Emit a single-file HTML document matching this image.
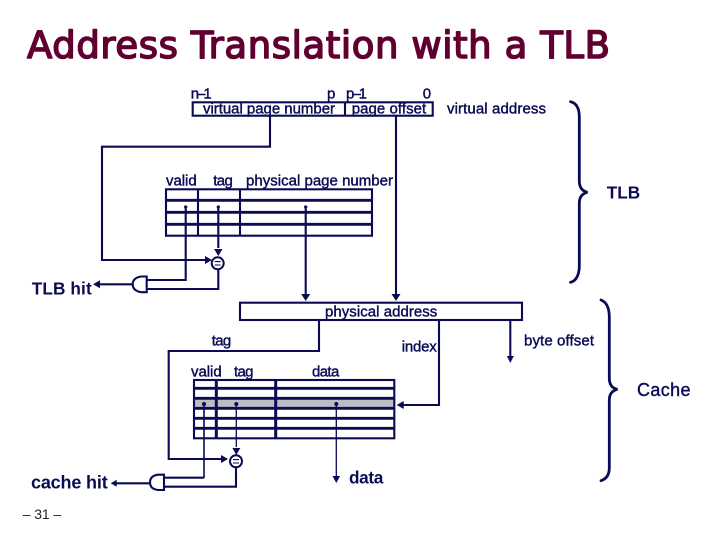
<!DOCTYPE html>
<html><head><meta charset="utf-8"><style>
html,body{margin:0;padding:0;background:#fff;width:720px;height:540px;overflow:hidden}
svg{display:block}
.t{font-family:"Liberation Sans",sans-serif;font-size:15px;fill:#0b0b55;stroke:#0b0b55;stroke-width:.4}
.b{font-family:"Liberation Sans",sans-serif;font-weight:bold;font-size:17.2px;fill:#0b0b55}
.l{fill:none;stroke:#0a0a55;stroke-width:2.1}
.k{fill:none;stroke:#0a0a55;stroke-width:2.8}
.a{fill:#0a0a55}
</style></head><body>
<svg width="720" height="540" viewBox="0 0 720 540" xmlns="http://www.w3.org/2000/svg">
<rect width="720" height="540" fill="#fff"/>
<text x="27" y="58" textLength="583" lengthAdjust="spacing" style="font-family:'DejaVu Sans',sans-serif;font-size:37px;fill:#600030;stroke:#600030;stroke-width:1.5;stroke-linejoin:round">Address Translation with a TLB</text>

<!-- virtual address -->
<text class="t" x="190.7" y="98.3" textLength="21" lengthAdjust="spacing">n–1</text>
<text class="t" x="327" y="98.3">p</text>
<text class="t" x="346" y="98.3" textLength="21" lengthAdjust="spacing">p–1</text>
<text class="t" x="422.7" y="98.3">0</text>
<rect class="l" x="192.7" y="102.3" width="240" height="13.4"/>
<line class="l" x1="345" y1="102" x2="345" y2="116"/>
<text class="t" x="203" y="113.3" textLength="132" lengthAdjust="spacing">virtual page number</text>
<text class="t" x="351.7" y="113.3" textLength="74.5" lengthAdjust="spacing">page offset</text>
<text class="t" x="447" y="113.3" textLength="99" lengthAdjust="spacing">virtual address</text>

<!-- TLB -->
<text class="t" x="166" y="185.7" textLength="30.7" lengthAdjust="spacing">valid</text>
<text class="t" x="213.3" y="185.7" textLength="19.5" lengthAdjust="spacing">tag</text>
<text class="t" x="246" y="185.7" textLength="147" lengthAdjust="spacing">physical page number</text>
<rect class="l" x="166" y="189.3" width="206" height="46.4"/>
<path class="k" d="M166 200.3H372M166 212.3H372M166 224.3H372"/>
<path class="l" d="M198 189V236M240 189V236"/>
<path class="l" d="M270 116V146.7H102V260H206"/>
<path class="a" d="M212 260l-7-4v8z"/>
<path class="l" d="M218.3 206V248"/>
<path class="a" d="M218.3 256l-4.2-7h8.4z"/>
<circle class="a" cx="185.7" cy="207" r="1.6"/><circle class="a" cx="218.3" cy="207" r="1.6"/><circle class="a" cx="305.7" cy="207" r="1.6"/>
<circle cx="217.7" cy="263.3" r="6" fill="#fff" stroke="#0a0a55" stroke-width="2"/>
<path d="M214.7 261.6h6M214.7 265h6" stroke="#0a0a55" stroke-width="1.1"/>
<path class="l" d="M185.7 206V280H146.7"/>
<path class="l" d="M218.3 270V289H146.7"/>
<path class="l" d="M146.7 276.5V292.2H141C134 291 132.7 287 132.7 284.3S134 277.7 141 276.5Z"/>
<path class="l" d="M132.7 284.3H98"/>
<path class="a" d="M93 284.3l7-4v8z"/>
<path class="l" d="M305.7 206V294"/>
<path class="a" d="M305.7 301l-4.5-7h9z"/>
<path class="l" d="M396 116V294"/>
<path class="a" d="M396 301l-4.5-7h9z"/>
<text class="b" x="606.7" y="198.3" textLength="33.5" lengthAdjust="spacing">TLB</text>
<text class="b" x="31.7" y="294.3" textLength="60" lengthAdjust="spacing">TLB hit</text>
<path class="k" stroke-linecap="round" d="M570.5 101.7C576 103 579.3 108 579.3 117V181C579.3 187 582 191 587.5 192.3C582 193.6 579.3 197 579.3 203V266C579.3 275 576 281 570.5 282.3"/>

<!-- physical address -->
<rect class="l" x="240" y="302.7" width="282" height="17.3"/>
<text class="t" x="325" y="316.7" textLength="112.3" lengthAdjust="spacing">physical address</text>
<text class="t" x="211.7" y="345.5" textLength="19.5" lengthAdjust="spacing">tag</text>
<text class="t" x="401.7" y="351.7" textLength="35" lengthAdjust="spacing">index</text>
<text class="t" x="524" y="345.7" textLength="70" lengthAdjust="spacing">byte offset</text>
<path class="l" d="M319 320V351H168.7V459H222"/>
<path class="a" d="M228 459l-7-4v8z"/>
<path class="l" d="M439 320V405H402"/>
<path class="a" d="M396.7 405l7-4v8z"/>
<path class="l" d="M510.3 320V357"/>
<path class="a" d="M510.3 363l-3.5-7h7z"/>

<!-- cache -->
<text class="t" x="191" y="376.7" textLength="30.7" lengthAdjust="spacing">valid</text>
<text class="t" x="234" y="376.7" textLength="19.5" lengthAdjust="spacing">tag</text>
<text class="t" x="312" y="376.7" textLength="27.3" lengthAdjust="spacing">data</text>
<rect x="194" y="399" width="200" height="9" fill="#bcbcc4"/>
<rect class="l" x="194" y="380" width="200.3" height="58.3"/>
<path class="k" d="M194 388.3H394M194 398.3H394M194 408.3H394M194 418.3H394M194 428.3H394"/>
<path stroke="#0a0a55" stroke-width="3" d="M216.3 380V438M275.7 380V438"/>
<circle class="a" cx="204" cy="404" r="2"/><circle class="a" cx="236.3" cy="404" r="2"/><circle class="a" cx="336.3" cy="404" r="2"/>
<path stroke="#0a0a55" stroke-width="1.3" d="M236.3 404V447M336.3 404V476"/>
<path stroke="#0a0a55" stroke-width="1.6" d="M204 404V478"/>
<path class="a" d="M236.3 455l-4-7h8z"/>
<path class="a" d="M336.3 483l-3.8-7h7.6z"/>
<circle cx="236" cy="461.3" r="6" fill="#fff" stroke="#0a0a55" stroke-width="2"/>
<path d="M233 459.6h6M233 463h6" stroke="#0a0a55" stroke-width="1.1"/>
<path class="l" d="M204 477.7H164"/>
<path class="l" d="M236 468V486.7H164"/>
<path class="l" d="M164 474.7V490H158C151 489 150 485.5 150 482.5S151 475.7 158 474.7Z"/>
<path class="l" d="M150 483.3H116"/>
<path class="a" d="M110.7 483.3l6-3.5v7z"/>
<text class="b" x="31" y="488.3" textLength="76.7" lengthAdjust="spacing" style="font-size:18px">cache hit</text>
<text class="b" x="349" y="483.3" textLength="34.3" lengthAdjust="spacing">data</text>
<text class="t" x="637" y="396" textLength="53.5" lengthAdjust="spacing" style="font-size:18px">Cache</text>
<path class="k" stroke-linecap="round" d="M601 300C606 302 609.3 307 609.3 317V378C609.3 385 612 388 617.5 389.3C612 390.6 609.3 394 609.3 400V468C609.3 475 606 479 601 480.7"/>

<text x="22.7" y="519" textLength="38.5" lengthAdjust="spacing" style="font-family:'Liberation Sans',sans-serif;font-size:14px;fill:#222">– 31 –</text>
</svg>
</body></html>
